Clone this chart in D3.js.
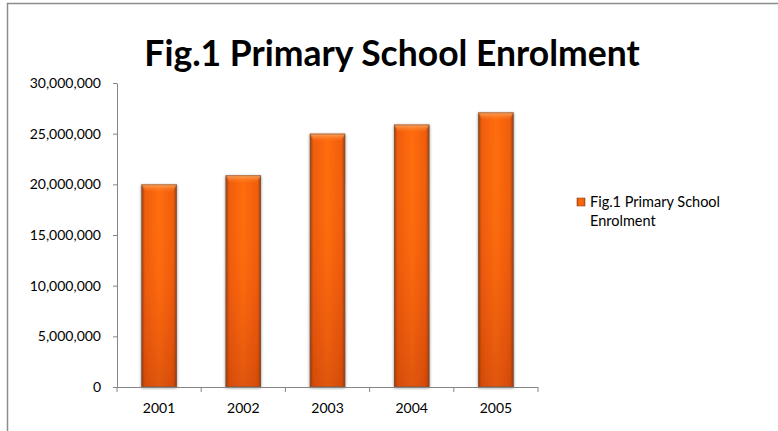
<!DOCTYPE html>
<html>
<head>
<meta charset="utf-8">
<script src="https://cdn.jsdelivr.net/npm/d3@7"></script>
<style>
  body { margin: 0; background: #fff; }
  svg { display: block; font-family: Lato, "Open Sans", sans-serif; }
</style>
</head>
<body>
<div id="chart"></div>
<script>
const years = ['2001', '2002', '2003', '2004', '2005'];
const enrolment = [20000000, 20900000, 25000000, 25900000, 27100000];
const yTicks = [0, 5000000, 10000000, 15000000, 20000000, 25000000, 30000000];
const seriesName = 'Fig.1 Primary School Enrolment';

const WIDTH = 778;
const HEIGHT = 431;
const LEFT = 117;
const RIGHT = 538;
const TOP = 83;
const BOTTOM = 387;
const AXIS_COLOR = '#868686';

const svg = d3.select('#chart').append('svg').attr('width', WIDTH).attr('height', HEIGHT);
const defs = svg.append('defs');

// horizontal shading of the bars: dark edges, bright middle
const side = defs.append('linearGradient').attr('id', 'bar-side').attr('x1', 0).attr('x2', 1).attr('y1', 0).attr('y2', 0);
[[0, '#94400f'], [0.1, '#f05c08'], [0.5, '#ff6c0c'], [0.9, '#f05c08'], [1, '#94400f']]
  .forEach(([o, c]) => side.append('stop').attr('offset', o).attr('stop-color', c));

// vertical darkening towards the base
const depth = defs.append('linearGradient').attr('id', 'bar-depth').attr('x1', 0).attr('x2', 0).attr('y1', 0).attr('y2', 1);
[[0, '#ffffff', 0], [0.5, '#b03000', 0.05], [1, '#902000', 0.28]]
  .forEach(([o, c, a]) => depth.append('stop').attr('offset', o).attr('stop-color', c).attr('stop-opacity', a));

const bevel = defs.append('linearGradient').attr('id', 'bar-bevel').attr('x1', 0).attr('x2', 0).attr('y1', 0).attr('y2', 1);
[[0, '#ffb070', 0.9], [1, '#ff7a20', 0]]
  .forEach(([o, c, a]) => bevel.append('stop').attr('offset', o).attr('stop-color', c).attr('stop-opacity', a));

const shadow = defs.append('filter').attr('id', 'bar-shadow').attr('x', '-30%').attr('y', '-10%').attr('width', '160%').attr('height', '120%');
shadow.append('feGaussianBlur').attr('in', 'SourceAlpha').attr('stdDeviation', 1.5).attr('result', 'b');
shadow.append('feOffset').attr('in', 'b').attr('dx', 0).attr('dy', 1).attr('result', 'o');
shadow.append('feComponentTransfer').attr('in', 'o').attr('result', 's')
  .append('feFuncA').attr('type', 'linear').attr('slope', 0.45);
const merge = shadow.append('feMerge');
merge.append('feMergeNode').attr('in', 's');
merge.append('feMergeNode').attr('in', 'SourceGraphic');

// outer chart frame (top and left edges visible)
svg.append('path')
  .attr('d', `M7.5,${HEIGHT + 5}V3.5H${WIDTH + 5}`)
  .attr('fill', 'none').attr('stroke', '#8c8c8c').attr('stroke-width', 1.5);

svg.append('text')
  .attr('x', 392).attr('y', 66)
  .attr('text-anchor', 'middle')
  .attr('font-size', 35.5).attr('font-weight', 'bold')
  .attr('fill', '#000')
  .text(seriesName);

const x = d3.scaleBand().domain(years).range([LEFT, RIGHT]).paddingInner(0.58).paddingOuter(0.29);
const y = d3.scaleLinear().domain([0, 30000000]).range([BOTTOM, TOP]);

const bars = svg.append('g').selectAll('g').data(years).join('g')
  .attr('filter', 'url(#bar-shadow)');

bars.append('rect')
  .attr('x', d => x(d)).attr('width', x.bandwidth())
  .attr('y', (d, i) => y(enrolment[i])).attr('height', (d, i) => y(0) - y(enrolment[i]))
  .attr('fill', 'url(#bar-side)');
bars.append('rect')
  .attr('x', d => x(d)).attr('width', x.bandwidth())
  .attr('y', (d, i) => y(enrolment[i])).attr('height', (d, i) => y(0) - y(enrolment[i]))
  .attr('fill', 'url(#bar-depth)');
bars.append('path')
  .attr('d', (d, i) => {
    const x0 = x(d), x1 = x(d) + x.bandwidth(), t = y(enrolment[i]);
    return `M${x0},${t}H${x1}L${x1 - 4},${t + 8}H${x0 + 4}Z`;
  })
  .attr('fill', 'url(#bar-bevel)');
bars.append('rect')
  .attr('x', d => x(d) + 0.5).attr('width', x.bandwidth() - 1)
  .attr('y', (d, i) => y(enrolment[i]) + 0.5).attr('height', (d, i) => y(0) - y(enrolment[i]) - 1)
  .attr('fill', 'none').attr('stroke', '#7a5a48').attr('stroke-width', 1).attr('stroke-opacity', 0.6);

const yAxis = svg.append('g')
  .attr('transform', `translate(${LEFT},0)`)
  .call(d3.axisLeft(y).tickValues(yTicks).tickFormat(d3.format(',')).tickSizeInner(4).tickSizeOuter(0).tickPadding(12));

const xAxis = svg.append('g')
  .attr('transform', `translate(0,${BOTTOM})`)
  .call(d3.axisBottom(x).tickSize(0).tickPadding(16));

// category boundary ticks on the x axis
const edges = d3.range(years.length + 1).map(i => LEFT + i * (RIGHT - LEFT) / years.length);
xAxis.selectAll('.edge').data(edges).join('line')
  .attr('class', 'edge')
  .attr('x1', d => d).attr('x2', d => d).attr('y1', 0).attr('y2', 5);
xAxis.select('.domain').attr('d', `M${LEFT - 4},0.5H${RIGHT}`);

[yAxis, xAxis].forEach(g => {
  g.selectAll('path, line').attr('stroke', AXIS_COLOR).attr('stroke-width', 1);
  g.selectAll('text').attr('font-size', 14).attr('fill', '#000').attr('font-family', 'Lato, "Open Sans", sans-serif');
});

const legend = svg.append('g').attr('transform', 'translate(577,198)');
legend.append('rect').attr('width', 8).attr('height', 8)
  .attr('fill', 'url(#bar-side)').attr('stroke', '#8a4a20').attr('stroke-width', 0.6);
legend.append('text').attr('x', 13).attr('y', 9).attr('font-size', 14.5).text('Fig.1 Primary School');
legend.append('text').attr('x', 13).attr('y', 28).attr('font-size', 14.5).text('Enrolment');
</script>
</body>
</html>
